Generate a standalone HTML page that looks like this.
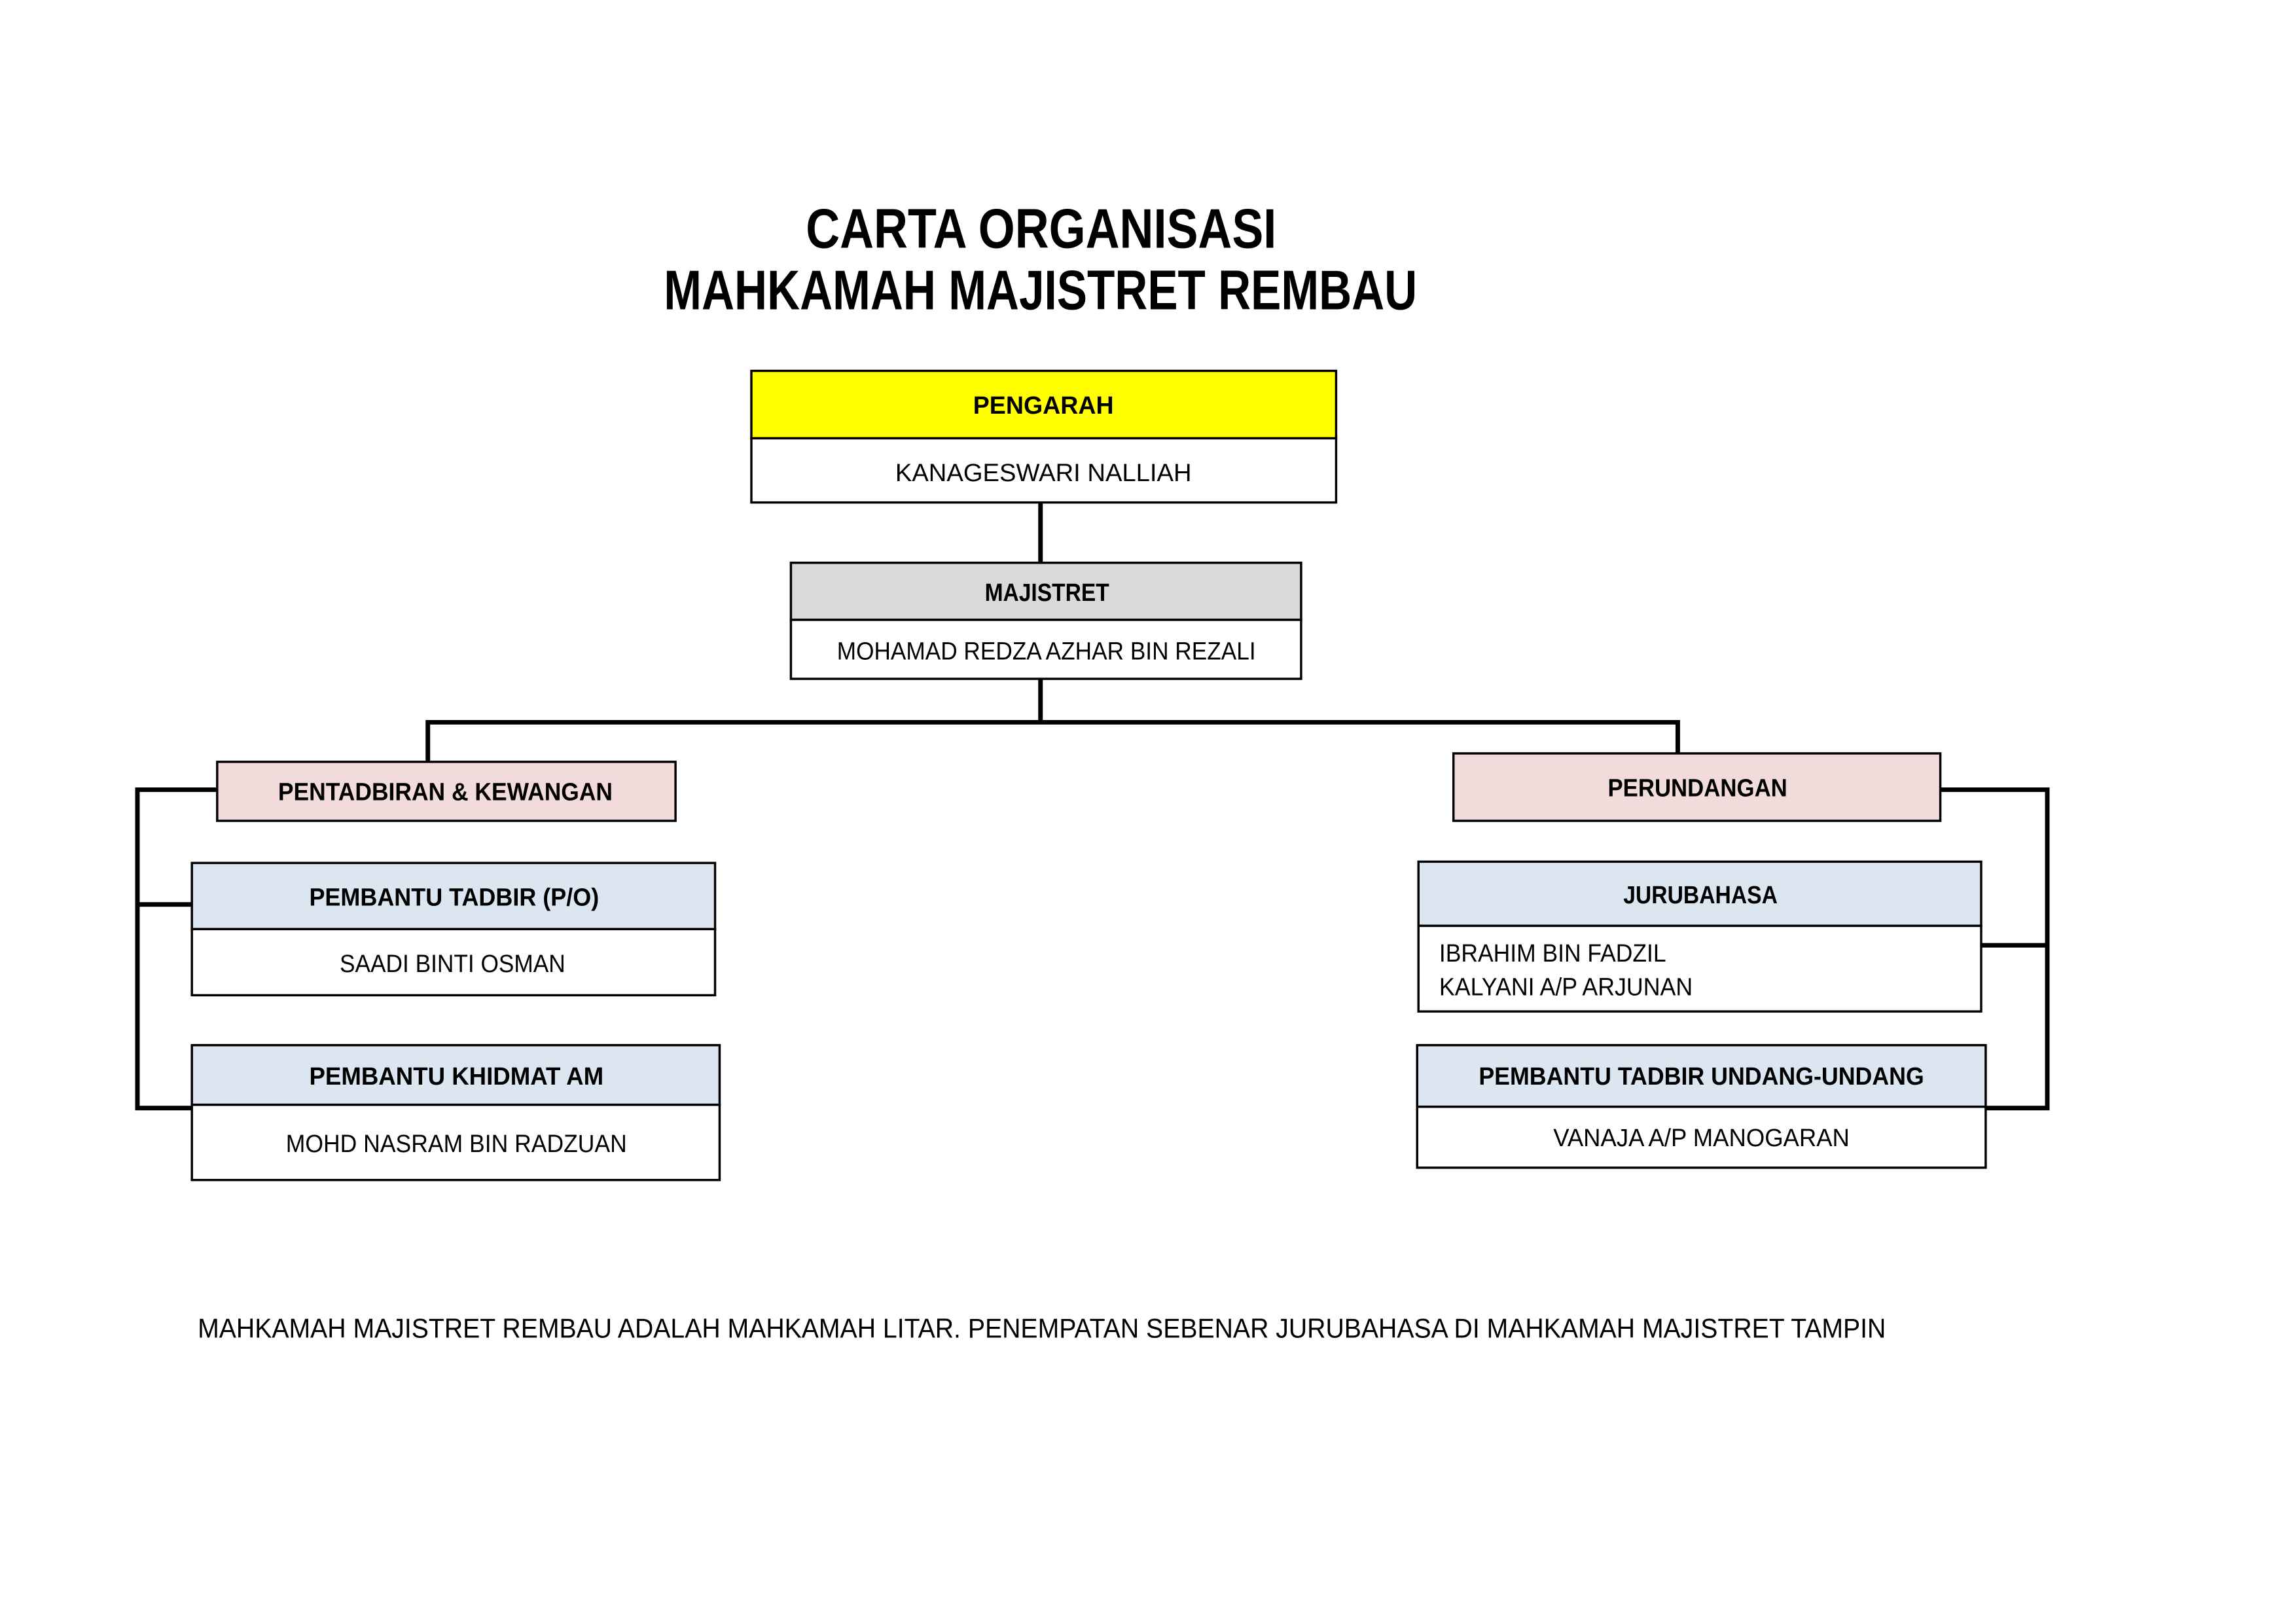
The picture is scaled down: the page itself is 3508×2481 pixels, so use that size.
<!DOCTYPE html>
<html><head><meta charset="utf-8"><style>html,body{margin:0;padding:0;background:#fff}svg{display:block}</style></head>
<body>
<svg width="3508" height="2481" viewBox="0 0 3508 2481" xmlns="http://www.w3.org/2000/svg" font-family="Liberation Sans, sans-serif">
<rect width="3508" height="2481" fill="#fff"/>
<g transform="scale(0.9905)">
<text x="1243" y="382" font-size="86" font-weight="bold" textLength="726" lengthAdjust="spacingAndGlyphs">CARTA ORGANISASI</text>
<text x="1024" y="477" font-size="86" font-weight="bold" textLength="1162" lengthAdjust="spacingAndGlyphs">MAHKAMAH MAJISTRET REMBAU</text>

<g stroke="#000" stroke-width="7" fill="none">
<line x1="1605" y1="775" x2="1605" y2="868"/>
<line x1="1605" y1="1047" x2="1605" y2="1114"/>
<polyline points="660,1175 660,1114 2588,1114 2588,1162"/>
<polyline points="335,1218 212,1218 212,1709 296,1709"/>
<line x1="212" y1="1395" x2="296" y2="1395"/>
<polyline points="2993,1218 3158,1218 3158,1709 3063,1709"/>
<line x1="3056" y1="1458" x2="3158" y2="1458"/>
</g>

<g stroke="#000" stroke-width="3.5">
<rect x="1159" y="572" width="902" height="104" fill="#ffff00"/>
<rect x="1159" y="676" width="902" height="99" fill="#fff"/>
<rect x="1220" y="868" width="787" height="88" fill="#d9d9d9"/>
<rect x="1220" y="956" width="787" height="91" fill="#fff"/>
<rect x="335" y="1175" width="707" height="91" fill="#f2dcdb"/>
<rect x="296" y="1331" width="807" height="102" fill="#dce6f1"/>
<rect x="296" y="1433" width="807" height="102" fill="#fff"/>
<rect x="296" y="1612" width="814" height="92" fill="#dce6f1"/>
<rect x="296" y="1704" width="814" height="116" fill="#fff"/>
<rect x="2242" y="1162" width="751" height="104" fill="#f2dcdb"/>
<rect x="2188" y="1329" width="868" height="99" fill="#dce6f1"/>
<rect x="2188" y="1428" width="868" height="132" fill="#fff"/>
<rect x="2186" y="1612" width="877" height="95" fill="#dce6f1"/>
<rect x="2186" y="1707" width="877" height="94" fill="#fff"/>
</g>

<g font-size="38" font-weight="bold">
<text x="1501" y="638" textLength="217" lengthAdjust="spacingAndGlyphs">PENGARAH</text>
<text x="1519" y="927" textLength="192" lengthAdjust="spacingAndGlyphs">MAJISTRET</text>
<text x="429" y="1234" textLength="516" lengthAdjust="spacingAndGlyphs">PENTADBIRAN &amp; KEWANGAN</text>
<text x="477" y="1397" textLength="447" lengthAdjust="spacingAndGlyphs">PEMBANTU TADBIR (P/O)</text>
<text x="477" y="1673" textLength="454" lengthAdjust="spacingAndGlyphs">PEMBANTU KHIDMAT AM</text>
<text x="2480" y="1228" textLength="277" lengthAdjust="spacingAndGlyphs">PERUNDANGAN</text>
<text x="2504" y="1393" textLength="238" lengthAdjust="spacingAndGlyphs">JURUBAHASA</text>
<text x="2281" y="1673" textLength="687" lengthAdjust="spacingAndGlyphs">PEMBANTU TADBIR UNDANG-UNDANG</text>
</g>
<g font-size="38">
<text x="1381" y="742" textLength="457" lengthAdjust="spacingAndGlyphs">KANAGESWARI NALLIAH</text>
<text x="1291" y="1017" textLength="646" lengthAdjust="spacingAndGlyphs">MOHAMAD REDZA AZHAR BIN REZALI</text>
<text x="524" y="1499" textLength="348" lengthAdjust="spacingAndGlyphs">SAADI BINTI OSMAN</text>
<text x="441" y="1777" textLength="526" lengthAdjust="spacingAndGlyphs">MOHD NASRAM BIN RADZUAN</text>
<text x="2220" y="1483" textLength="350" lengthAdjust="spacingAndGlyphs">IBRAHIM BIN FADZIL</text>
<text x="2220" y="1535" textLength="391" lengthAdjust="spacingAndGlyphs">KALYANI A/P ARJUNAN</text>
<text x="2396" y="1768" textLength="457" lengthAdjust="spacingAndGlyphs">VANAJA A/P MANOGARAN</text>
</g>
<text x="305" y="2063" font-size="42" textLength="2604" lengthAdjust="spacingAndGlyphs">MAHKAMAH MAJISTRET REMBAU ADALAH MAHKAMAH LITAR. PENEMPATAN SEBENAR JURUBAHASA DI MAHKAMAH MAJISTRET TAMPIN</text>
</g>
</svg>
</body></html>
